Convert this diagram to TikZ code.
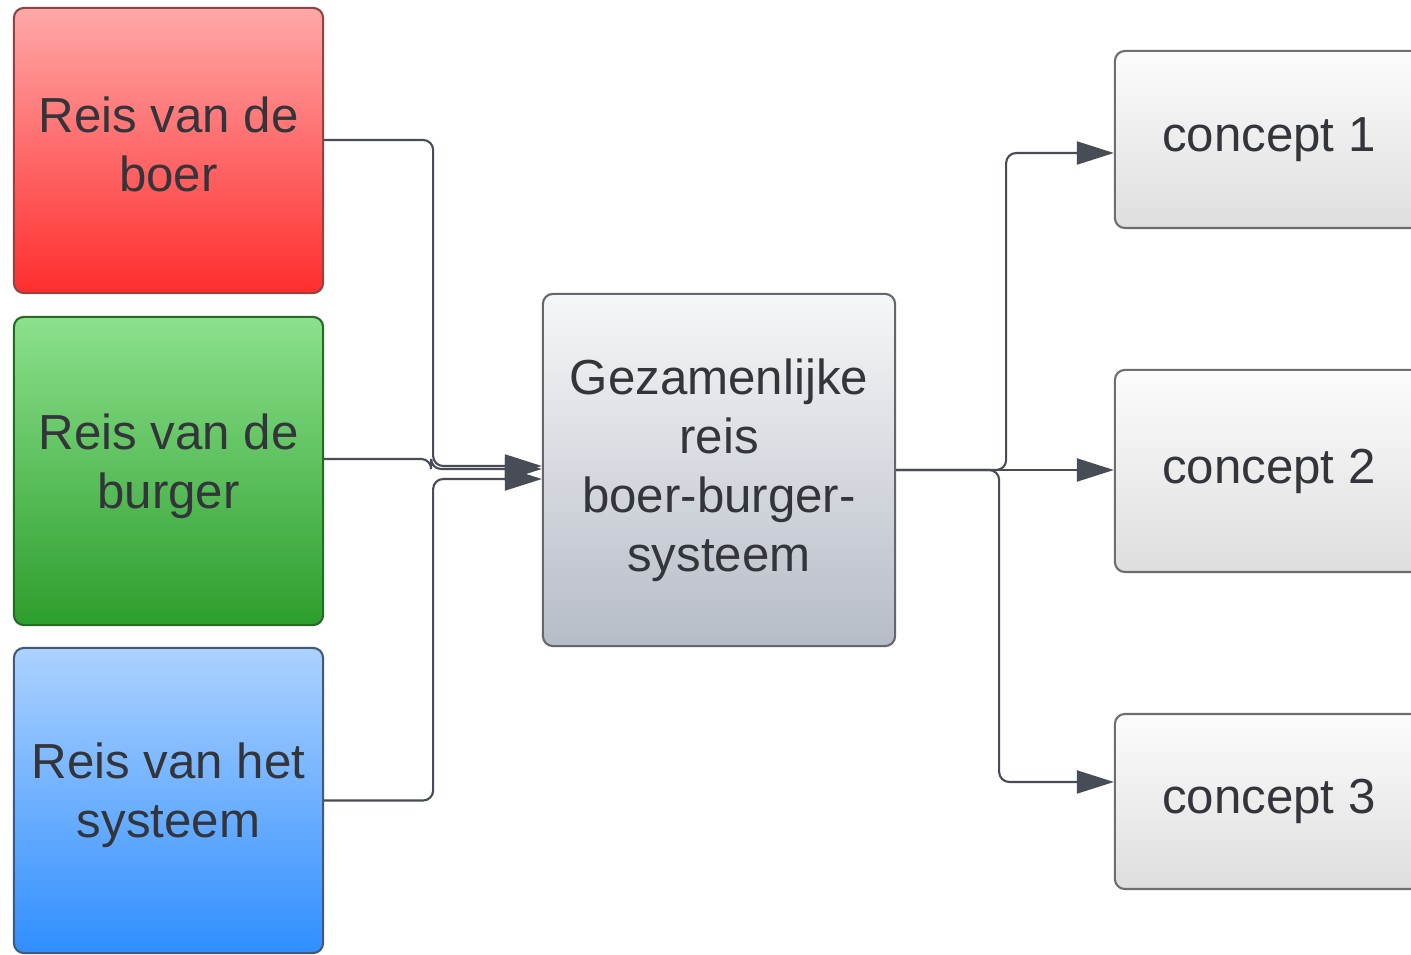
\documentclass[tikz,border=0pt]{standalone}
\usepackage{fontspec}
\setmainfont{Liberation Sans}
\usetikzlibrary{arrows.meta, positioning}
\definecolor{boertop}{RGB}{255, 168, 168}
\definecolor{boerbot}{RGB}{255, 45, 45}
\definecolor{boerline}{RGB}{140, 70, 70}
\definecolor{burgertop}{RGB}{140, 225, 140}
\definecolor{burgerbot}{RGB}{45, 158, 45}
\definecolor{burgerline}{RGB}{40, 105, 40}
\definecolor{systeemtop}{RGB}{172, 210, 255}
\definecolor{systeembot}{RGB}{48, 142, 255}
\definecolor{systeemline}{RGB}{70, 88, 118}
\definecolor{geztop}{RGB}{246, 247, 249}
\definecolor{gezbot}{RGB}{182, 188, 198}
\definecolor{gezline}{RGB}{100, 102, 108}
\definecolor{concepttop}{RGB}{252, 252, 252}
\definecolor{conceptbot}{RGB}{222, 222, 222}
\definecolor{conceptline}{RGB}{110, 110, 112}
\definecolor{linkgray}{RGB}{72, 76, 86}
\definecolor{textdark}{RGB}{51, 53, 58}

\begin{document}
\begin{tikzpicture}[
    x=0.01cm, y=-0.01cm,
    journey/.style={rectangle, rounded corners=0.1cm, draw=#1line, line width=0.6pt, top color=#1top, bottom color=#1bot, minimum width=3.09cm, align=center, text=textdark, font=\fontsize{14}{16.8}\selectfont},
    joint/.style={journey=gez, minimum width=3.52cm, minimum height=3.52cm},
    outcome/.style={journey=concept, minimum width=3.08cm},
    link/.style={-{Triangle[length=0.37cm, width=0.23cm]}, line width=0.6pt, color=linkgray, rounded corners=0.1cm}
]

\clip (0,0) rectangle (1411,955);
\fill[white] (0,0) rectangle (1411,955);

% Three journeys (left)
\node[journey=boer, minimum height=2.85cm, text depth=0.13cm] (boer) at (168.5,150.5) {Reis van de\\boer};
\node[journey=burger, minimum height=3.08cm, text depth=0.2cm] (burger) at (168.5,471) {Reis van de\\burger};
\node[journey=systeem, minimum height=3.05cm, text depth=0.2cm] (systeem) at (168.5,800.5) {Reis van het\\systeem};

% Joint journey (centre)
\node[joint] (gez) at (719,470) {Gezamenlijke\\reis\\boer-burger-\\systeem};

% Concepts (right)
\node[outcome, minimum height=1.77cm] (concept1) at (1269,139.5) {concept 1};
\node[outcome, minimum height=2.02cm] (concept2) at (1269,471) {concept 2};
\node[outcome, minimum height=1.75cm] (concept3) at (1269,801.5) {concept 3};

% Arrows: journeys to joint journey
\draw[link] ([yshift=0.105cm]boer.east) -- ++(109,0) |- ([yshift=0.04cm]gez.west);
\draw[link] ([yshift=0.12cm]burger.east) -- ++(107,0) |- ([yshift=0.01cm]gez.west);
\draw[link] (systeem.east) -- ++(109,0) |- ([yshift=-0.09cm]gez.west);

% Arrows: joint journey to concepts
\draw[link] (gez.east) -- ++(110,0) |- ([yshift=-0.135cm]concept1.west);
\draw[link] (gez.east) -- (gez.east -| concept2.west);
\draw[link] (gez.east) -- ++(103,0) |- ([yshift=0.195cm]concept3.west);

\end{tikzpicture}
\end{document}
